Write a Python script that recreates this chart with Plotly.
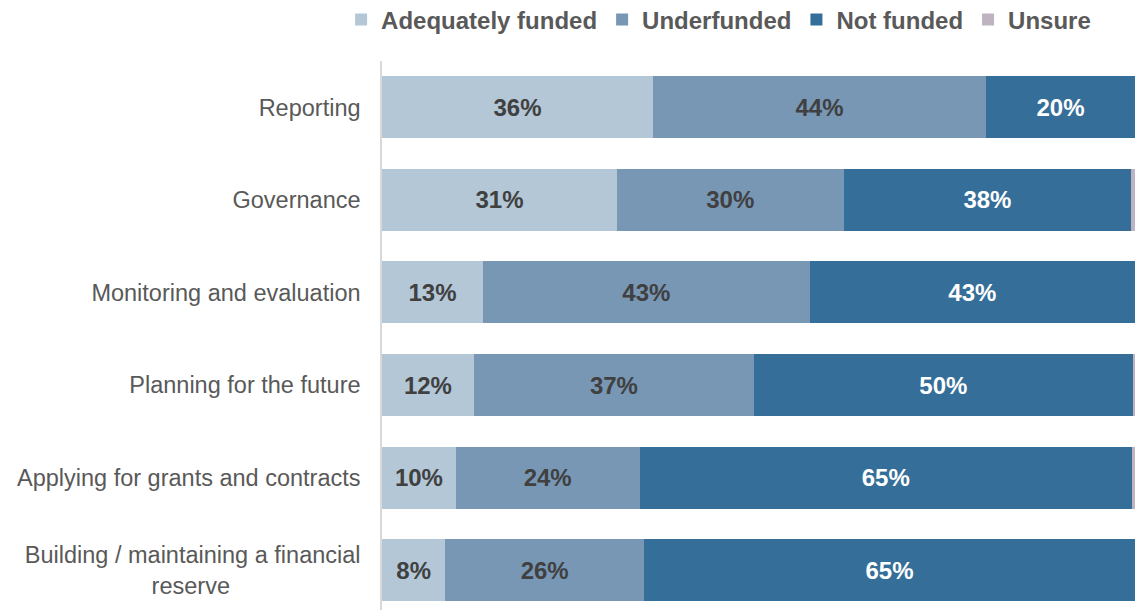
import plotly.graph_objects as go

categories = [
    "Reporting",
    "Governance",
    "Monitoring and evaluation",
    "Planning for the future",
    "Applying for grants and contracts",
    "Building / maintaining a financial<br>reserve" + "\u00a0" * 20,
]
series_names = ["Adequately funded", "Underfunded", "Not funded", "Unsure"]
adequately = [36.0, 31.2, 13.4, 12.2, 9.8, 8.4]
underfunded = [44.2, 30.1, 43.4, 37.2, 24.4, 26.4]
not_funded = [19.8, 38.2, 43.2, 50.3, 65.4, 65.2]
unsure = [0.0, 0.5, 0.0, 0.3, 0.4, 0.0]

colors = ["#B4C7D7", "#7897B5", "#356E98", "#BDB3C1"]
text_colors = ["#404040", "#404040", "#FFFFFF", "#404040"]
font_family = "Liberation Sans, Arial, sans-serif"

fig = go.Figure()
for name, vals, col, tcol in zip(series_names, [adequately, underfunded, not_funded, unsure], colors, text_colors):
    show_text = name != "Unsure"
    fig.add_trace(go.Bar(
        name=name,
        y=categories,
        x=vals,
        orientation="h",
        marker=dict(color=col, line=dict(width=0)),
        texttemplate="<b>%{x:.0f}%</b>" if show_text else "",
        textposition="inside" if show_text else "none",
        insidetextanchor="middle",
        textangle=0,
        insidetextfont=dict(family=font_family, size=24, color=tcol),
        constraintext="none",
        hoverinfo="skip",
    ))

fig.update_layout(
    barmode="stack",
    bargap=0.33,
    autosize=False,
    width=1135,
    height=610,
    margin=dict(l=382, r=0, t=61, b=0, autoexpand=False),
    paper_bgcolor="white",
    plot_bgcolor="white",
    font=dict(family=font_family, color="#595959"),
    showlegend=True,
    legend=dict(
        orientation="h",
        x=0.447,
        xanchor="center",
        y=1.116,
        yanchor="top",
        font=dict(family=font_family, size=24, color="#595959", weight="bold"),
        traceorder="normal",
        itemwidth=30,
        bgcolor="rgba(0,0,0,0)",
    ),
)

fig.update_xaxes(range=[0, 100], visible=False, showgrid=False, zeroline=False, fixedrange=True)
fig.update_yaxes(
    categoryorder="array",
    categoryarray=categories,
    range=[5.43, -0.5],
    showline=True,
    linecolor="#D9D9D9",
    linewidth=1.5,
    ticks="",
    showgrid=False,
    zeroline=False,
    tickfont=dict(family=font_family, size=23.5, color="#595959"),
    ticklabelstandoff=15,
)

fig.write_html(
    "out.html",
    config={"responsive": False, "displayModeBar": False},
    post_script="document.body.style.margin='0';document.body.style.overflow='hidden';",
)
